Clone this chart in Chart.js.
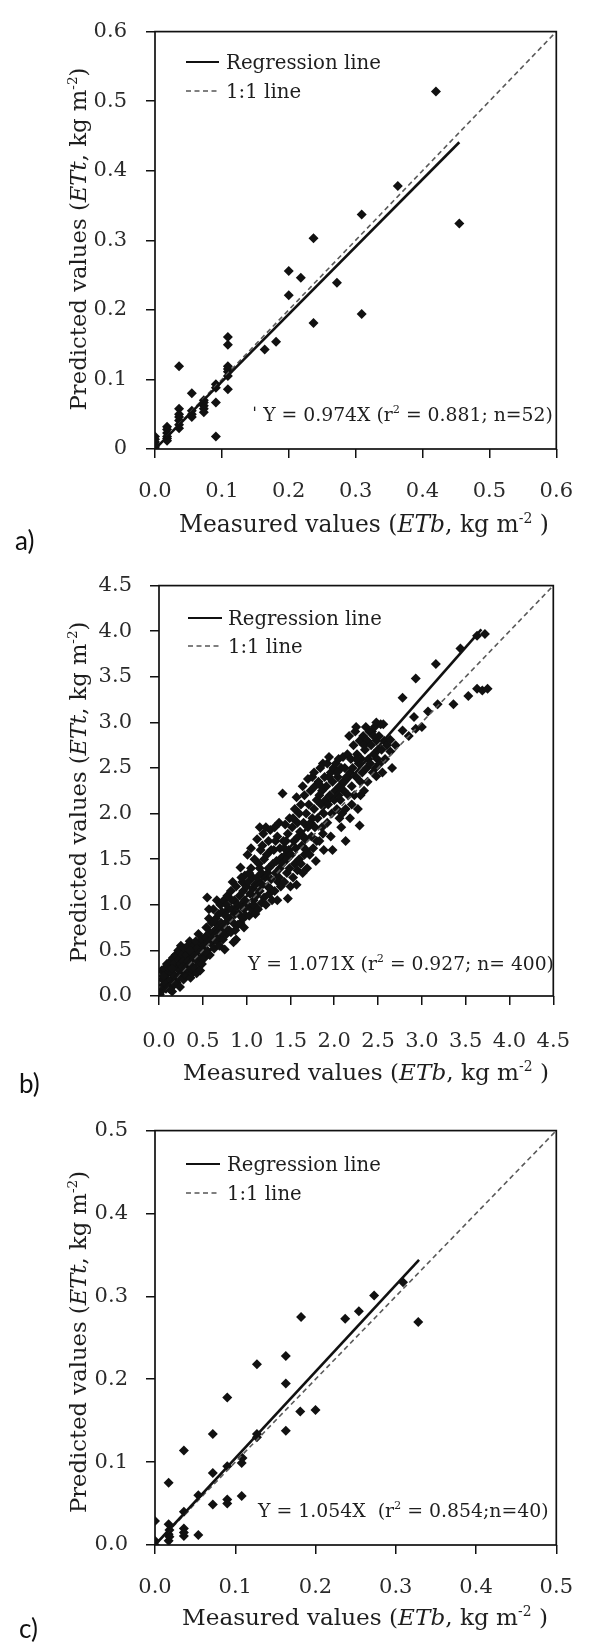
<!DOCTYPE html>
<html><head><meta charset="utf-8">
<script src="https://cdn.jsdelivr.net/npm/chart.js@4.4.1/dist/chart.umd.min.js"></script>
<style>
html,body{margin:0;padding:0;background:#fff;}
body{width:594px;height:1645px;position:relative;overflow:hidden;}
canvas{position:absolute;left:0;}
</style></head><body>
<canvas id="ca" width="594" height="555" style="top:0px"></canvas>
<canvas id="cb" width="594" height="545" style="top:555px"></canvas>
<canvas id="cc" width="594" height="545" style="top:1100px"></canvas>
<script>
// ---------------- DATA ----------------
// Panel a
const ticksA = [0, 0.1, 0.2, 0.3, 0.4, 0.5, 0.6];
const xTickLabelsA = ["0.0", "0.1", "0.2", "0.3", "0.4", "0.5", "0.6"];
const yTickLabelsA = ["0", "0.1", "0.2", "0.3", "0.4", "0.5", "0.6"];
const pointsA = [
 [0.420,0.514],[0.455,0.324],[0.363,0.378],[0.309,0.337],[0.309,0.194],[0.237,0.303],[0.237,0.181],
 [0.272,0.239],[0.200,0.256],[0.200,0.221],[0.218,0.246],[0.181,0.154],[0.164,0.143],[0.109,0.161],
 [0.109,0.150],[0.109,0.119],[0.109,0.111],[0.109,0.086],[0.091,0.093],[0.091,0.067],[0.091,0.018],
 [0.036,0.119],[0.055,0.080],[0.073,0.067],[0.073,0.053],[0.073,0.062],[0.055,0.046],[0.036,0.058],
 [0.036,0.046],[0.036,0.041],[0.036,0.030],[0.018,0.032],[0.018,0.023],[0.018,0.015],[0,0.018],
 [0,0.010],[0,0.003],[0,0],[0.109,0.105],[0.091,0.088],[0.073,0.070],[0.055,0.050],[0.036,0.035],
 [0.018,0.018],[0.018,0.028],[0,0.006],[0,0.014],[0.036,0.050],[0.055,0.055],[0.073,0.058],
 [0.109,0.115],[0.018,0.012]
];
const regressionA = [[0,0],[0.455,0.441]];
const oneToOneA = [[0,0],[0.6,0.6]];
const equationA = "\u02C8 Y = 0.974X (r\u00B2 = 0.881; n=52)";

// Panel b
const ticksB = [0, 0.5, 1.0, 1.5, 2.0, 2.5, 3.0, 3.5, 4.0, 4.5];
const xTickLabelsB = ["0.0","0.5","1.0","1.5","2.0","2.5","3.0","3.5","4.0","4.5"];
const yTickLabelsB = ["0.0","0.5","1.0","1.5","2.0","2.5","3.0","3.5","4.0","4.5"];
const pointsB = [
 [0,0],[0.02,0.05],[0.03,0.28],[0.05,0.12],[0.06,0.3],[0.07,0.2],[0.08,0.08],[0.09,0.35],[0.04,0.18],[0.1,0.25],[0.08,0.14],[0.01,0.02],
 [0.11,0.1],[0.12,0.3],[0.13,0.38],[0.14,0.18],[0.15,0.05],[0.15,0.25],[0.16,0.42],[0.17,0.12],[0.18,0.32],[0.18,0.22],[0.19,0.45],[0.2,0.15],[0.12,0.08],[0.17,0.36],
 [0.21,0.3],[0.22,0.5],[0.22,0.2],[0.23,0.4],[0.24,0.1],[0.25,0.35],[0.25,0.55],[0.26,0.25],[0.27,0.45],[0.28,0.18],[0.28,0.38],[0.29,0.52],[0.3,0.3],[0.24,0.28],[0.27,0.32],
 [0.31,0.22],[0.31,0.45],[0.32,0.35],[0.33,0.55],[0.34,0.28],[0.35,0.4],[0.35,0.6],[0.36,0.2],[0.37,0.48],[0.38,0.33],[0.38,0.25],[0.39,0.42],[0.4,0.55],[0.33,0.38],[0.37,0.3],
 [0.41,0.3],[0.41,0.45],[0.42,0.6],[0.43,0.25],[0.44,0.38],[0.45,0.5],[0.45,0.68],[0.46,0.35],[0.47,0.28],[0.47,0.55],[0.48,0.42],[0.49,0.62],[0.5,0.48],[0.43,0.52],[0.49,0.35],
 [0.51,0.55],[0.52,0.42],[0.53,0.65],[0.54,0.75],[0.55,0.5],[0.55,1.08],[0.56,0.6],[0.57,0.85],[0.58,0.45],[0.58,0.7],[0.59,0.58],[0.6,0.8],[0.53,0.48],[0.57,0.95],
 [0.61,0.62],[0.62,0.95],[0.63,0.52],[0.64,0.72],[0.65,0.85],[0.66,1.05],[0.66,0.6],[0.67,0.78],[0.68,0.9],[0.69,0.55],[0.7,0.7],[0.7,1.0],[0.63,0.82],[0.68,0.65],
 [0.71,0.8],[0.72,0.92],[0.73,0.62],[0.74,1.05],[0.75,0.51],[0.75,0.75],[0.76,0.88],[0.77,0.68],[0.78,1.1],[0.78,0.82],[0.79,0.95],[0.8,0.72],[0.72,0.7],[0.77,1.0],
 [0.81,0.85],[0.82,1.15],[0.82,0.7],[0.83,0.95],[0.84,1.25],[0.85,0.59],[0.85,0.8],[0.86,1.05],[0.87,0.9],[0.88,0.62],[0.88,1.2],[0.89,0.98],[0.9,0.78],[0.83,1.05],[0.87,0.72],
 [0.91,0.9],[0.92,1.1],[0.93,1.41],[0.93,0.8],[0.94,1.0],[0.95,1.25],[0.96,0.85],[0.96,1.15],[0.97,0.95],[0.98,1.32],[0.98,1.05],[0.99,0.88],[1.0,1.2],[0.94,1.3],[0.97,0.75],
 [1.01,1.0],[1.01,1.55],[1.02,1.25],[1.03,0.88],[1.04,1.12],[1.05,1.4],[1.05,1.62],[1.06,0.95],[1.07,1.18],[1.07,1.3],[1.08,1.05],[1.09,1.5],[1.1,0.9],[1.1,1.22],[1.03,1.35],[1.08,1.0],
 [1.11,1.1],[1.12,1.72],[1.12,1.3],[1.13,0.95],[1.14,1.45],[1.15,1.85],[1.15,1.15],[1.16,1.6],[1.17,1.02],[1.17,1.35],[1.18,1.22],[1.19,1.78],[1.2,1.5],[1.2,1.08],[1.13,1.25],[1.18,1.65],
 [1.21,1.3],[1.22,1.85],[1.22,1.0],[1.23,1.55],[1.24,1.2],[1.25,1.7],[1.25,1.4],[1.26,1.12],[1.27,1.82],[1.28,1.28],[1.28,1.6],[1.29,1.05],[1.3,1.45],[1.24,1.35],[1.27,1.18],
 [1.31,1.6],[1.32,1.15],[1.32,1.85],[1.33,1.35],[1.34,1.48],[1.35,1.75],[1.35,1.05],[1.36,1.25],[1.37,1.9],[1.38,1.4],[1.38,1.62],[1.39,1.2],[1.4,1.52],[1.33,1.7],[1.37,1.3],
 [1.41,2.22],[1.41,1.45],[1.42,1.7],[1.43,1.25],[1.44,1.88],[1.45,1.55],[1.46,1.35],[1.47,1.07],[1.47,1.78],[1.48,1.6],[1.49,1.95],[1.49,1.4],[1.5,1.2],[1.43,1.62],[1.46,1.5],
 [1.51,1.55],[1.52,1.85],[1.53,1.3],[1.54,1.7],[1.55,2.05],[1.55,1.45],[1.56,1.62],[1.57,2.18],[1.58,1.38],[1.58,1.9],[1.59,1.75],[1.6,1.5],[1.6,2.0],[1.53,1.95],[1.57,1.22],
 [1.61,1.8],[1.62,2.1],[1.62,1.45],[1.63,1.65],[1.64,2.3],[1.65,1.9],[1.66,1.55],[1.66,2.2],[1.67,1.72],[1.68,2.0],[1.69,1.4],[1.7,1.85],[1.7,2.38],[1.64,1.35],[1.68,1.6],
 [1.71,2.1],[1.72,1.55],[1.73,2.25],[1.74,1.75],[1.75,1.95],[1.75,2.4],[1.76,1.62],[1.77,2.05],[1.78,1.85],[1.78,2.3],[1.79,1.48],[1.8,2.15],[1.8,1.7],[1.73,1.9],[1.77,2.45],
 [1.81,1.95],[1.82,2.35],[1.83,1.7],[1.84,2.5],[1.85,2.1],[1.86,1.85],[1.86,2.25],[1.87,2.55],[1.88,1.6],[1.88,2.0],[1.89,2.4],[1.9,2.15],[1.83,2.2],[1.87,1.78],
 [1.91,2.3],[1.92,2.55],[1.92,1.9],[1.93,2.1],[1.94,2.62],[1.95,2.2],[1.96,1.75],[1.96,2.45],[1.97,2.0],[1.98,1.6],[1.98,2.35],[1.99,2.5],[2.0,2.15],[1.94,2.4],
 [2.01,2.25],[2.02,2.55],[2.03,2.05],[2.04,2.4],[2.05,2.6],[2.06,1.95],[2.06,2.3],[2.07,2.15],[2.08,2.5],[2.09,2.0],[2.1,2.35],[2.1,2.62],[2.03,2.45],[2.08,1.85],
 [2.11,2.25],[2.12,2.5],[2.13,1.7],[2.13,2.05],[2.14,2.4],[2.15,2.65],[2.16,2.2],[2.17,2.85],[2.18,2.45],[2.18,1.95],[2.19,2.6],[2.2,2.3],[2.2,2.1],
 [2.21,2.5],[2.22,2.75],[2.23,2.2],[2.24,2.9],[2.25,2.4],[2.26,2.65],[2.27,2.05],[2.28,2.55],[2.29,1.87],[2.29,2.8],[2.3,2.35],[2.3,2.2],[2.25,2.95],
 [2.31,2.6],[2.32,2.45],[2.33,2.85],[2.34,2.25],[2.35,2.7],[2.36,2.95],[2.37,2.5],[2.38,2.35],[2.38,2.8],[2.39,2.6],[2.4,2.9],[2.34,2.75],
 [2.41,2.55],[2.42,2.75],[2.43,2.9],[2.44,2.45],[2.45,2.65],[2.46,2.95],[2.47,2.5],[2.48,2.8],[2.48,3.0],[2.49,2.6],[2.5,2.7],
 [2.51,2.85],[2.52,2.55],[2.53,2.98],[2.54,2.7],[2.56,2.98],[2.57,2.8],[2.58,2.6],[2.6,2.75],[2.55,2.45],
 [2.48,2.41],[2.64,2.68],[2.64,2.81],[2.66,2.5],[2.78,2.91],[2.78,3.27],[2.91,3.06],[2.93,2.93],[2.93,3.48],[3.07,3.12],
 [3.16,3.64],[3.18,3.20],[3.36,3.20],[3.44,3.81],[3.53,3.29],[3.63,3.37],[3.63,3.95],[3.69,3.35],[3.75,3.37],[3.72,3.97],
 [3.0,2.95],[2.7,2.75],[2.85,2.85],
 [0.05,0.22],[0.15,0.3],[0.35,0.5],[0.62,0.7],[0.9,1.0],[1.15,1.4],[1.45,1.7],[1.65,1.75],[1.85,2.3],[2.05,2.2],[2.25,2.6],[2.45,2.85]
];
const regressionB = [[0,0],[3.68,4.02]];
const oneToOneB = [[0,0],[4.5,4.5]];
const equationB = "Y = 1.071X (r\u00B2 = 0.927; n= 400)";

// Panel c
const ticksC = [0, 0.1, 0.2, 0.3, 0.4, 0.5];
const xTickLabelsC = ["0.0","0.1","0.2","0.3","0.4","0.5"];
const yTickLabelsC = ["0.0","0.1","0.2","0.3","0.4","0.5"];
const pointsC = [
 [0.309,0.317],[0.328,0.269],[0.273,0.301],[0.254,0.282],[0.237,0.273],[0.182,0.275],[0.163,0.228],
 [0.163,0.195],[0.163,0.138],[0.181,0.161],[0.200,0.163],[0.127,0.218],[0.127,0.134],[0.090,0.178],
 [0.090,0.095],[0.108,0.099],[0.108,0.059],[0.090,0.055],[0.090,0.050],[0.072,0.134],[0.072,0.087],
 [0.072,0.049],[0.036,0.114],[0.017,0.075],[0,0.029],[0,0],[0.017,0.025],[0.017,0.013],[0.017,0.005],
 [0.036,0.020],[0.036,0.011],[0.054,0.012],[0.018,0.018],[0.036,0.040],[0.054,0.060],[0.127,0.130],
 [0.109,0.105],[0,0.005],[0.018,0.010],[0.036,0.015]
];
const regressionC = [[0,0],[0.329,0.344]];
const oneToOneC = [[0,0],[0.5,0.5]];
const equationC = "Y = 1.054X  (r\u00B2 = 0.854;n=40)";

// ---------------- LAYOUT / STYLE ----------------
const SERIF = "'DejaVu Serif', serif";
const panels = [
  { id:'ca', label:'a)', ticks:ticksA, xl:xTickLabelsA, yl:yTickLabelsA, pts:pointsA, reg:regressionA, one:oneToOneA, eq:equationA,
    area:{left:155, right:575, top:25, bottom:449}, h:555, yPad:19, xPad:21,
    xTitle:{cx:364, cy:524, w:370}, yTitle:{cx:78, cy:239, w:343},
    leg:{x1:186, x2:219, tx:226, y1:62, y2:91, w1:155},
    eqPos:{x:252, y:414, w:301}, lab:{x:15, y:542} },
  { id:'cb', label:'b)', ticks:ticksB, xl:xTickLabelsB, yl:yTickLabelsB, pts:pointsB, reg:regressionB, one:oneToOneB, eq:equationB,
    area:{left:159, right:573, top:23, bottom:441}, h:545, yPad:18, xPad:24,
    xTitle:{cx:366, cy:517, w:366}, yTitle:{cx:78, cy:237, w:341},
    leg:{x1:188, x2:222, tx:228, y1:63, y2:91, w1:154},
    eqPos:{x:248, y:408, w:306}, lab:{x:19, y:530} },
  { id:'cc', label:'c)', ticks:ticksC, xl:xTickLabelsC, yl:yTickLabelsC, pts:pointsC, reg:regressionC, one:oneToOneC, eq:equationC,
    area:{left:155, right:573, top:21, bottom:445}, h:545, yPad:18, xPad:21,
    xTitle:{cx:365, cy:517, w:366}, yTitle:{cx:78, cy:242, w:342},
    leg:{x1:186, x2:220, tx:227, y1:64, y2:93, w1:154},
    eqPos:{x:258, y:410, w:291}, lab:{x:19, y:530} }
];

function fontOf(seg, size){ const s = seg.sup ? size*0.6 : size; return (seg.it?'italic ':'') + s.toFixed(2) + 'px ' + SERIF; }
function richWidth(ctx, segs, size){ let w=0; for(const s of segs){ ctx.font=fontOf(s,size); w+=ctx.measureText(s.t).width; } return w; }
function drawRich(ctx, segs, x, cy, targetW, align){
  const base = 20; const size = base*targetW/richWidth(ctx, segs, base);
  const w = richWidth(ctx, segs, size);
  let cx = align==='center' ? x - w/2 : x;
  const baseY = cy + size*0.36;
  ctx.textBaseline='alphabetic'; ctx.textAlign='left';
  for(const s of segs){ ctx.font=fontOf(s,size); ctx.fillText(s.t, cx, s.sup ? baseY - size*0.42 : baseY); cx += ctx.measureText(s.t).width; }
}
function eqSegs(str){ const i=str.indexOf('\u00B2'); return [{t:str.slice(0,i)},{t:'2',sup:1},{t:str.slice(i+1)}]; }

const xTitleSegs = [{t:'Measured values ('},{t:'ETb',it:1},{t:', kg m'},{t:'-2',sup:1},{t:' )'}];
const yTitleSegs = [{t:'Predicted values ('},{t:'ETt',it:1},{t:', kg m'},{t:'-2',sup:1},{t:')'}];

const annot = {
  id:'annot',
  afterDraw(chart, args, o){
    const p = o.p; const ctx = chart.ctx; const a = chart.chartArea;
    ctx.save();
    ctx.strokeStyle='#111'; ctx.lineWidth=1.7; ctx.setLineDash([]);
    ctx.strokeRect(a.left, a.top, a.right-a.left, a.bottom-a.top);
    ctx.fillStyle='#1e1e1e';
    drawRich(ctx, xTitleSegs, p.xTitle.cx, p.xTitle.cy, p.xTitle.w, 'center');
    ctx.save(); ctx.translate(p.yTitle.cx, p.yTitle.cy); ctx.rotate(-Math.PI/2);
    drawRich(ctx, yTitleSegs, 0, 0, p.yTitle.w, 'center'); ctx.restore();
    // legend
    ctx.strokeStyle='#111'; ctx.lineWidth=2.2;
    ctx.beginPath(); ctx.moveTo(p.leg.x1, p.leg.y1); ctx.lineTo(p.leg.x2, p.leg.y1); ctx.stroke();
    ctx.strokeStyle='#555'; ctx.lineWidth=1.6; ctx.setLineDash([5,3.5]);
    ctx.beginPath(); ctx.moveTo(p.leg.x1, p.leg.y2); ctx.lineTo(p.leg.x2, p.leg.y2); ctx.stroke();
    ctx.setLineDash([]);
    const legSize = 20*p.leg.w1/richWidth(ctx,[{t:'Regression line'}],20);
    ctx.font = legSize.toFixed(2)+'px '+SERIF; ctx.textBaseline='alphabetic'; ctx.textAlign='left';
    ctx.fillText('Regression line', p.leg.tx, p.leg.y1 + legSize*0.36);
    ctx.fillText('1:1 line', p.leg.tx, p.leg.y2 + legSize*0.36);
    drawRich(ctx, eqSegs(p.eq), p.eqPos.x, p.eqPos.y, p.eqPos.w, 'left');
    // panel label
    ctx.font = "26px Lato, 'Open Sans', sans-serif"; ctx.fillStyle='#111';
    ctx.textBaseline='middle'; ctx.fillText(p.label, p.lab.x, p.lab.y);
    ctx.restore();
  }
};

function scaleCfg(axis, p, labels, pad){
  const vals = p.ticks;
  return {
    type:'linear', position: axis==='x'?'bottom':'left',
    min: vals[0], max: vals[vals.length-1], offset:false,
    afterBuildTicks: s => { s.ticks = vals.map(v=>({value:v})); },
    afterFit: s => { if(axis==='x') s.height = p.h - p.area.bottom; else s.width = p.area.left; },
    ticks:{ callback:(v,i)=>labels[i], font:{family:SERIF, size:21}, color:'#2a2a2a', padding:pad, maxRotation:0, minRotation:0, autoSkip:false },
    grid:{ drawOnChartArea:false, drawTicks:true, tickLength:9, color:'#111', lineWidth:1.5 },
    border:{ display:false },
    title:{ display:false }
  };
}

for(const p of panels){
  const toXY = arr => arr.map(d=>({x:d[0], y:d[1]}));
  new Chart(document.getElementById(p.id), {
    type:'scatter',
    data:{ datasets:[
      { label:'Regression line', data:toXY(p.reg), showLine:true, borderColor:'#111', borderWidth:2.6, pointRadius:0, order:1 },
      { label:'1:1 line', data:toXY(p.one), showLine:true, borderColor:'#5a5a5a', borderWidth:1.6, borderDash:[5,3.5], pointRadius:0, order:2 },
      { label:'Data', data:toXY(p.pts), pointStyle:'rectRot', pointRadius:5, pointBackgroundColor:'#111', pointBorderWidth:0, pointBorderColor:'#111', order:3 }
    ]},
    options:{
      responsive:false, animation:false, devicePixelRatio:1,
      layout:{ autoPadding:false, padding:{ left:0, right:594-p.area.right, top:p.area.top, bottom:0 } },
      plugins:{ legend:{display:false}, tooltip:{enabled:false}, annot:{p:p} },
      scales:{ x: scaleCfg('x', p, p.xl, p.xPad), y: scaleCfg('y', p, p.yl, p.yPad) }
    },
    plugins:[annot]
  });
}
</script>
</body></html>
